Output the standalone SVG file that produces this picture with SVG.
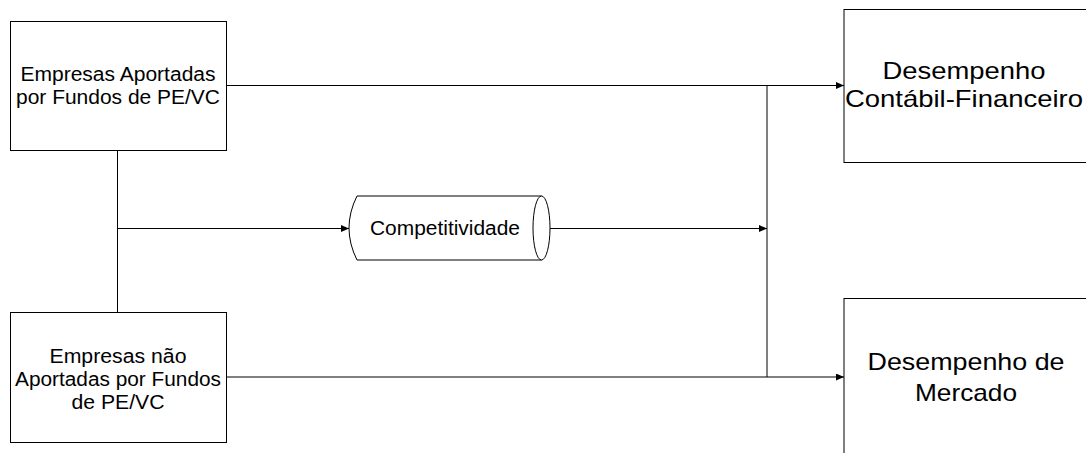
<svg xmlns="http://www.w3.org/2000/svg" width="1086" height="453" viewBox="0 0 1086 453">
  <style>
    .box { fill: #ffffff; stroke: #000000; stroke-width: 1; }
    .lbl { font-family: "Liberation Sans", Arial, sans-serif; fill: #000000; text-anchor: middle; }
    .sm { font-size: 20px; }
    .lg { font-size: 24px; }
    .wire { fill: none; stroke: #000000; stroke-width: 1; }
  </style>
  <defs>
    <marker id="arrow" markerUnits="userSpaceOnUse" markerWidth="9" markerHeight="8" refX="8" refY="3.5" orient="auto">
      <path d="M0,0 L8,3.5 L0,7 z" fill="#000000"/>
    </marker>
  </defs>

  <rect width="1086" height="453" fill="#ffffff"/>

  <!-- connectors -->
  <g id="connectors">
    <line class="wire" x1="117.5" y1="150" x2="117.5" y2="312.5"/>
    <line class="wire" x1="117.5" y1="228.5" x2="349" y2="228.5" marker-end="url(#arrow)"/>
    <line class="wire" x1="550" y1="228.5" x2="767" y2="228.5" marker-end="url(#arrow)"/>
    <line class="wire" x1="226.5" y1="85.5" x2="844" y2="85.5" marker-end="url(#arrow)"/>
    <line class="wire" x1="226.5" y1="377" x2="844" y2="377" marker-end="url(#arrow)"/>
    <line class="wire" x1="767" y1="85.5" x2="767" y2="377"/>
  </g>

  <!-- source: funded companies -->
  <g id="node-aportadas">
    <rect class="box" x="10.5" y="21.5" width="216" height="129"/>
    <text class="lbl sm" x="118" y="81" textLength="195" lengthAdjust="spacingAndGlyphs">Empresas Aportadas</text>
    <text class="lbl sm" x="118" y="104" textLength="204" lengthAdjust="spacingAndGlyphs">por Fundos de PE/VC</text>
  </g>

  <!-- source: non-funded companies -->
  <g id="node-nao-aportadas">
    <rect class="box" x="10.5" y="312.5" width="216" height="130"/>
    <text class="lbl sm" x="118" y="363" textLength="137" lengthAdjust="spacingAndGlyphs">Empresas não</text>
    <text class="lbl sm" x="118" y="386" textLength="206" lengthAdjust="spacingAndGlyphs">Aportadas por Fundos</text>
    <text class="lbl sm" x="118" y="409" textLength="93" lengthAdjust="spacingAndGlyphs">de PE/VC</text>
  </g>

  <!-- mediator: horizontal cylinder -->
  <g id="node-competitividade">
    <path class="box" d="M357,196 H541.5 V260 H357 Q341,228 357,196 Z"/>
    <ellipse class="box" cx="541.5" cy="228" rx="8.5" ry="32"/>
    <text class="lbl sm" x="445" y="235" textLength="150" lengthAdjust="spacingAndGlyphs">Competitividade</text>
  </g>

  <!-- outcome: accounting-financial performance -->
  <g id="node-contabil">
    <rect class="box" x="844" y="9.5" width="250" height="153"/>
    <text class="lbl lg" x="964" y="79" textLength="163" lengthAdjust="spacingAndGlyphs">Desempenho</text>
    <text class="lbl lg" x="964" y="107" textLength="238" lengthAdjust="spacingAndGlyphs">Contábil-Financeiro</text>
  </g>

  <!-- outcome: market performance -->
  <g id="node-mercado">
    <rect class="box" x="844" y="298.5" width="250" height="200"/>
    <text class="lbl lg" x="966" y="370" textLength="197" lengthAdjust="spacingAndGlyphs">Desempenho de</text>
    <text class="lbl lg" x="966" y="401" textLength="102" lengthAdjust="spacingAndGlyphs">Mercado</text>
  </g>
</svg>
